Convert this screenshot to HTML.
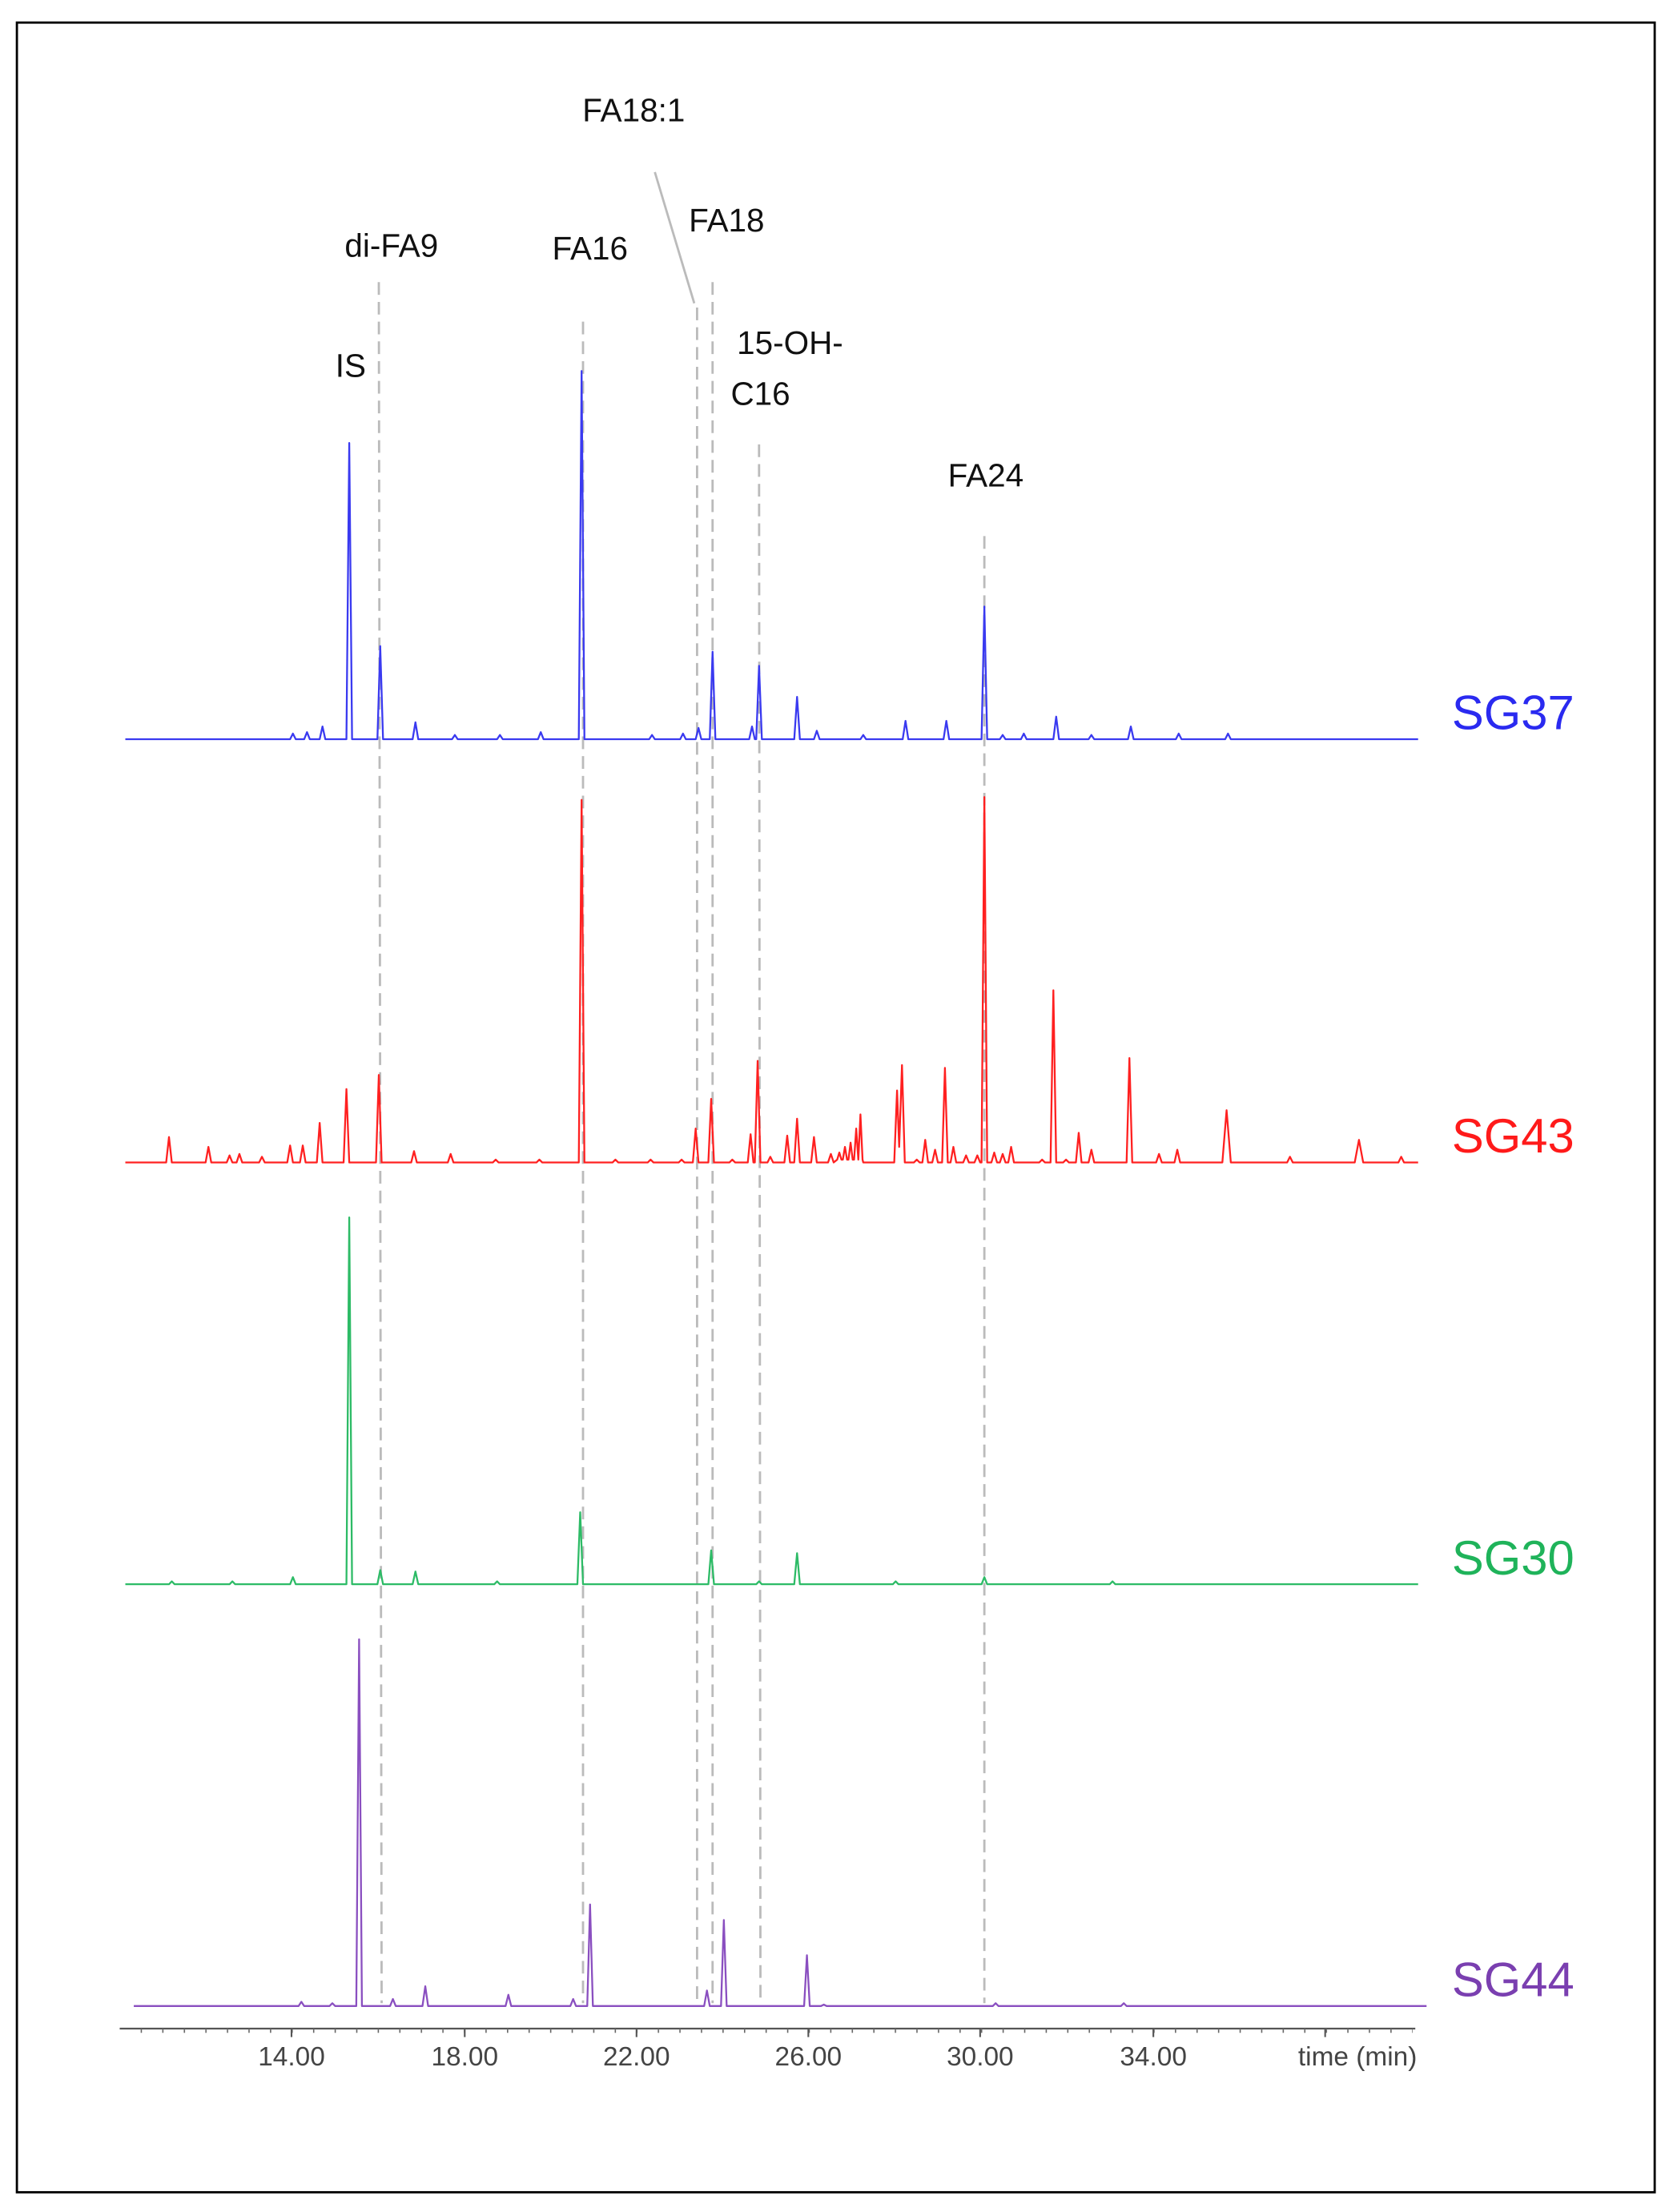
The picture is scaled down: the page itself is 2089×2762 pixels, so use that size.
<!DOCTYPE html>
<html><head><meta charset="utf-8"><style>
html,body{margin:0;padding:0;background:#fff;}
svg{display:block;}
text{font-family:"Liberation Sans",sans-serif;}
</style></head><body>
<svg width="2089" height="2762" viewBox="0 0 1188 1568" preserveAspectRatio="none" xmlns="http://www.w3.org/2000/svg">
<defs>
<pattern id="mt" x="207" y="0" width="15.3" height="10" patternUnits="userSpaceOnUse">
<rect x="0" y="0" width="0.9" height="10" fill="#666"/>
</pattern>
</defs>
<rect x="12" y="16" width="1163" height="1538" fill="#fff" stroke="#000" stroke-width="1.6"/>
<g stroke="#bbb" stroke-width="1.6" stroke-dasharray="9,5" fill="none">
<line x1="269" y1="200" x2="271" y2="1420"/>
<line x1="414" y1="228" x2="414" y2="1420"/>
<line x1="495" y1="218" x2="495" y2="1420"/>
<line x1="506" y1="200" x2="506" y2="1420"/>
<line x1="539" y1="315" x2="540" y2="1420"/>
<line x1="699" y1="380" x2="699" y2="1420"/>
</g>
<line x1="465" y1="122" x2="493" y2="215" stroke="#bbb" stroke-width="1.6"/>
<g font-size="23" fill="#111" text-anchor="middle">
<text x="450" y="86">FA18:1</text>
<text x="278" y="182">di-FA9</text>
<text x="419" y="184">FA16</text>
<text x="516" y="164">FA18</text>
<text x="249" y="267">IS</text>
<text x="561" y="251">15-OH-</text>
<text x="540" y="287">C16</text>
<text x="700" y="345">FA24</text>
</g>
<g font-size="34" text-anchor="start">
<text x="1031" y="517" fill="#2a2af0">SG37</text>
<text x="1031" y="817" fill="#ff1a1a">SG43</text>
<text x="1031" y="1116" fill="#1fb35a">SG30</text>
<text x="1031" y="1415" fill="#7a3fb0">SG44</text>
</g>
<g fill="none" stroke-width="1.3" stroke-linejoin="round">
<path stroke="#3a3af0" d="M89,524 L206,524 l2,-4 l2,4 L216,524 l2,-5 l2,5 L227,524 l2,-9 l2,9 L246,524 l2,-210 l2,210 L268,524 l2,-66 l2,66 L293,524 l2,-12 l2,12 L321,524 l2,-3 l2,3 L353,524 l2,-3 l2,3 L382,524 l2,-5 l2,5 L411,524 l2,-261 l2,261 L461,524 l2,-3 l2,3 L483,524 l2,-4 l2,4 L494,524 l2,-8 l2,8 L504,524 l2,-62 l2,62 L532,524 l2,-9 l2,9 L537,524 l2,-52 l2,52 L564,524 l2,-30 l2,30 L578,524 l2,-6 l2,6 L611,524 l2,-3 l2,3 L641,524 l2,-13 l2,13 L670,524 l2,-13 l2,13 L697,524 l2,-94 l2,94 L710,524 l2,-3 l2,3 L725,524 l2,-4 l2,4 L748,524 l2,-16 l2,16 L773,524 l2,-3 l2,3 L801,524 l2,-9 l2,9 L835,524 l2,-4 l2,4 L870,524 l2,-4 l2,4 L1007,524"/>
<path stroke="#ff2020" d="M89,824 L118,824 l2,-18 l2,18 L146,824 l2,-11 l2,11 L161,824 l2,-5 l2,5 L168,824 l2,-6 l2,6 L184,824 l2,-4 l2,4 L204,824 l2,-12 l2,12 L213,824 l2,-12 l2,12 L225,824 l2,-28 l2,28 L244,824 l2,-52 l2,52 L267,824 l2,-62 l2,62 L292,824 l2,-8 l2,8 L318,824 l2,-6 l2,6 L350,824 l2,-2 l2,2 L381,824 l2,-2 l2,2 L411,824 l2,-257 l2,257 L435,824 l2,-2 l2,2 L460,824 l2,-2 l2,2 L482,824 l2,-2 l2,2 L492,824 l2,-24 l2,24 L503,824 l2,-45 l2,45 L518,824 l2,-2 l2,2 L531,824 l2,-20 l2,20 L536,824 l2,-72 l2,72 L545,824 l2,-4 l2,4 L557,824 l2,-19 l2,19 L564,824 l2,-31 l2,31 L576,824 l2,-18 l2,18 L588,824 l2,-6 l2,6 L594.5,822 l1.5,-5 l1.5,5 L598.5,822 l1.5,-9 l1.5,9 L602.5,822 l1.5,-12 l1.5,12 L606.5,822 l1.5,-22 l1.5,22 L609.5,822 l1.5,-32 l1.5,32 L613,824 L635,824 l2,-51 l1.5,40 l2,-58 l2,69 L649,824 l2,-2 l2,2 L655,824 l2,-16 l2,16 L662,824 l2,-9 l2,9 L669,824 l2,-67 l2,67 L675,824 l2,-11 l2,11 L684,824 l2,-5 l2,5 L692,824 l2,-5 l2,5 L697,824 l2,-259 l2,259 L704,824 l2,-7 l2,7 L710,824 l2,-6 l2,6 L716,824 l2,-11 l2,11 L738,824 l2,-2 l2,2 L746,824 l2,-122 l2,122 L755,824 l2,-2 l2,2 L764,824 l2,-21 l2,21 L773,824 l2,-9 l2,9 L800,824 l2,-74 l2,74 L821,824 l2,-6 l2,6 L834,824 l2,-9 l2,9 L868,824 l3,-37 l3,37 L914,824 l2,-4 l2,4 L962,824 l3,-16 l3,16 L993,824 l2,-4 l2,4 L1007,824"/>
<path stroke="#2dbb66" d="M89,1123 L120,1123 l2,-2 l2,2 L163,1123 l2,-2 l2,2 L206,1123 l2,-5 l2,5 L246,1123 l2,-260 l2,260 L268,1123 l2,-10 l2,10 L293,1123 l2,-9 l2,9 L351,1123 l2,-2 l2,2 L410,1123 l2,-51 l2,51 L503,1123 l2,-24 l2,24 L537,1123 l2,-2 l2,2 L564,1123 l2,-22 l2,22 L634,1123 l2,-2 l2,2 L697,1123 l2,-5 l2,5 L788,1123 l2,-2 l2,2 L1007,1123"/>
<path stroke="#8a4fc0" d="M95,1422 L212,1422 l2,-3 l2,3 L234,1422 l2,-2 l2,2 L253,1422 l2,-260 l2,260 L277,1422 l2,-5 l2,5 L300,1422 l2,-14 l2,14 L359,1422 l2,-8 l2,8 L405,1422 l2,-5 l2,5 L417,1422 l2,-72 l2,72 L500,1422 l2,-11 l2,11 L512,1422 l2,-61 l2,61 L571,1422 l2,-36 l2,36 L583,1422 l2,-1 l2,1 L705,1422 l2,-2 l2,2 L796,1422 l2,-2 l2,2 L1013,1422"/>
</g>
<line x1="85" y1="1438" x2="1005" y2="1438" stroke="#555" stroke-width="1.3"/>
<rect x="88" y="1438" width="915" height="3" fill="url(#mt)"/>
<g stroke="#555" stroke-width="1.2">
<line x1="207" y1="1438" x2="207" y2="1444"/>
<line x1="330" y1="1438" x2="330" y2="1444"/>
<line x1="452" y1="1438" x2="452" y2="1444"/>
<line x1="574" y1="1438" x2="574" y2="1444"/>
<line x1="696" y1="1438" x2="696" y2="1444"/>
<line x1="819" y1="1438" x2="819" y2="1444"/>
<line x1="941" y1="1438" x2="941" y2="1444"/>
</g>
<g font-size="19" fill="#444" text-anchor="middle">
<text x="207" y="1464">14.00</text>
<text x="330" y="1464">18.00</text>
<text x="452" y="1464">22.00</text>
<text x="574" y="1464">26.00</text>
<text x="696" y="1464">30.00</text>
<text x="819" y="1464">34.00</text>
<text x="964" y="1464">time (min)</text>
</g>
</svg>
</body></html>
